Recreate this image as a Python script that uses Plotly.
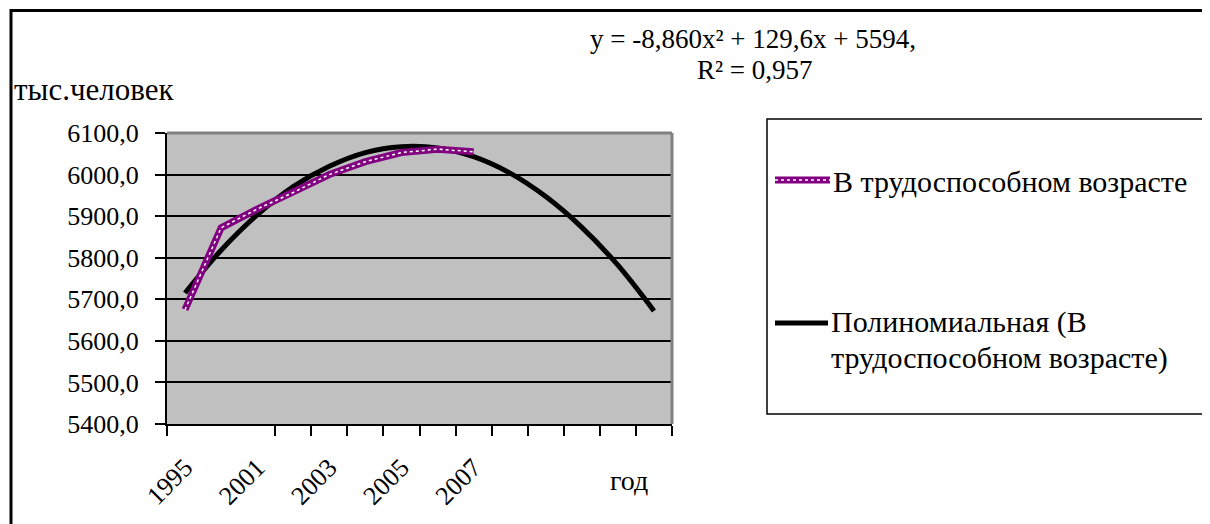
import plotly.graph_objects as go

# ---- data ----
categories = ["1995", "2000", "2001", "2002", "2003", "2004", "2005", "2006", "2007",
              "", "", "", "", ""]
tick_labels = ["1995", "2001", "2003", "2005", "2007"]
tick_label_positions = [1, 3, 5, 7, 9]
working_age = [5675, 5872, 5917, 5957, 6000, 6031, 6053, 6061, 6055]
trend_values = [5715, 5818, 5903, 5971, 6020, 6053, 6067, 6064, 6043, 6004, 5947, 5873, 5782, 5672]
y_ticks = [5400, 5500, 5600, 5700, 5800, 5900, 6000, 6100]
y_tick_text = ["5400,0", "5500,0", "5600,0", "5700,0", "5800,0", "5900,0", "6000,0", "6100,0"]
series_name = "В трудоспособном возрасте"
trend_name_lines = ["Полиномиальная (В", "трудоспособном возрасте)"]
equation_lines = ["y = -8,860x² + 129,6x + 5594,", "R² = 0,957"]

# page has an 8px body margin -> figure is offset by 8px
OFF = 8
W, H = 1210, 524
L, R, T, B = 167, 672, 133, 424   # plot area in screenshot pixels
FONT = "Liberation Serif"
PURPLE = "#800080"


def px(x):
    return (x - L) / (R - L)


def py(y):
    return (B - y) / (B - T)


x_data = list(range(1, len(working_age) + 1))
x_trend = list(range(1, len(trend_values) + 1))

fig = go.Figure()
fig.add_trace(go.Scatter(x=x_trend, y=trend_values, mode="lines", line=dict(color="black", width=5, shape="spline"),
                         name=" ".join(trend_name_lines), showlegend=False))
fig.add_trace(go.Scatter(x=x_data, y=working_age, mode="lines", line=dict(color=PURPLE, width=7),
                         name=series_name, showlegend=False))
fig.add_trace(go.Scatter(x=x_data, y=working_age, mode="lines", line=dict(color="white", width=1.5, dash="dot"),
                         hoverinfo="skip", showlegend=False))

minor_ticks = [0.5] + [i + 0.5 for i in range(3, len(categories) + 1)]

fig.update_xaxes(range=[0.5, len(categories) + 0.5], tickvals=tick_label_positions, ticktext=tick_labels,
                 tickangle=-45, ticks="", showgrid=False, zeroline=False,
                 showline=True, linecolor="black", linewidth=2,
                 ticklabelstandoff=16,
                 tickfont=dict(family=FONT, size=26, color="black"),
                 minor=dict(tickvals=minor_ticks, ticks="outside", ticklen=10, tickwidth=2,
                            tickcolor="black", showgrid=False))
fig.update_yaxes(range=[5400, 6100], tickvals=y_ticks, ticktext=y_tick_text, ticks="outside",
                 ticklen=10, tickwidth=1.5, tickcolor="black", showgrid=True, gridcolor="black",
                 gridwidth=1.5, zeroline=False, showline=True, linecolor="black", linewidth=2,
                 ticklabelstandoff=11,
                 tickfont=dict(family=FONT, size=26, color="black"))

shapes = [
    # gray plot-area frame (top/right)
    dict(type="line", xref="paper", yref="paper", x0=0, x1=1, y0=1, y1=1, line=dict(color="#808080", width=3)),
    dict(type="line", xref="paper", yref="paper", x0=1, x1=1, y0=0, y1=1, line=dict(color="#808080", width=3)),
    # outer chart border
    dict(type="line", xref="paper", yref="paper", x0=px(10), x1=px(W + 5), y0=py(10.5), y1=py(10.5),
         line=dict(color="black", width=3)),
    dict(type="line", xref="paper", yref="paper", x0=px(11), x1=px(11), y0=py(9), y1=py(H + 5),
         line=dict(color="black", width=3)),
    # legend box
    dict(type="rect", xref="paper", yref="paper", x0=px(767), x1=px(1204), y0=py(119), y1=py(414),
         line=dict(color="black", width=1.5), fillcolor="white", layer="below"),
    # legend samples
    dict(type="line", xref="paper", yref="paper", x0=px(775), x1=px(830), y0=py(180), y1=py(180),
         line=dict(color=PURPLE, width=7)),
    dict(type="line", xref="paper", yref="paper", x0=px(775), x1=px(830), y0=py(180), y1=py(180),
         line=dict(color="white", width=1.5, dash="dot")),
    dict(type="line", xref="paper", yref="paper", x0=px(775), x1=px(828), y0=py(323), y1=py(323),
         line=dict(color="black", width=5)),
]

ann_font = dict(family=FONT, color="black")
annotations = [
    dict(text=series_name, x=px(831), y=py(181), xanchor="left", yanchor="middle",
         font=dict(size=30, **ann_font)),
    dict(text=trend_name_lines[0], x=px(829), y=py(322), xanchor="left", yanchor="middle",
         font=dict(size=30, **ann_font)),
    dict(text=trend_name_lines[1], x=px(829), y=py(358), xanchor="left", yanchor="middle",
         font=dict(size=30, **ann_font)),
    dict(text=equation_lines[0], x=px(753), y=py(39), xanchor="center", yanchor="middle",
         font=dict(size=27, **ann_font)),
    dict(text=equation_lines[1], x=px(755), y=py(70), xanchor="center", yanchor="middle",
         font=dict(size=27, **ann_font)),
    dict(text="тыс.человек", x=px(12), y=py(89), xanchor="left", yanchor="middle",
         font=dict(size=31, **ann_font)),
    dict(text="год", x=px(629), y=py(480), xanchor="center", yanchor="middle",
         font=dict(size=28, **ann_font)),
]
for a in annotations:
    a.update(xref="paper", yref="paper", showarrow=False)

fig.update_layout(width=W - OFF, height=H - OFF,
                  margin=dict(l=L - OFF, r=(W - OFF) - (R - OFF), t=T - OFF, b=(H - OFF) - (B - OFF)),
                  paper_bgcolor="white", plot_bgcolor="#C0C0C0",
                  shapes=shapes, annotations=annotations, showlegend=False)

fig.write_html("out.html")
